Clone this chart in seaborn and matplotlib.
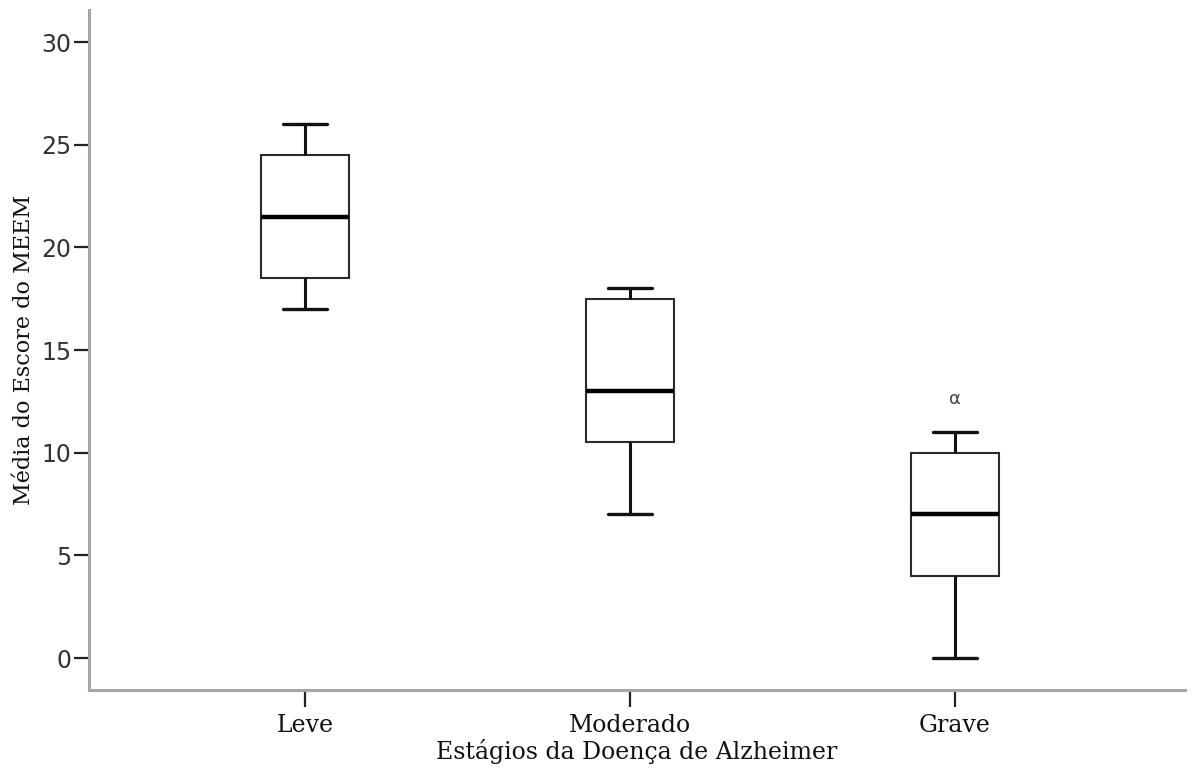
import pandas as pd
import matplotlib.pyplot as plt
import seaborn as sns

# five-number summaries (min, Q1, median, Q3, max)
stages = ['Leve', 'Moderado', 'Grave']
leve = [17, 18.5, 21.5, 24.5, 26]
moderado = [7, 10.5, 13, 17.5, 18]
grave = [0, 4, 7, 10, 11]
alpha_y = 12.6

df = pd.DataFrame({
    'stage': ['Leve'] * 5 + ['Moderado'] * 5 + ['Grave'] * 5,
    'score': leve + moderado + grave,
})

sns.set_style('white')
fig = plt.figure(figsize=(11.97, 7.71), dpi=100)
ax = fig.add_axes([0.0744, 0.105, 0.9156, 0.882])

sns.boxplot(data=df, x='stage', y='score', order=stages, ax=ax,
            color='white', linecolor='#2a2a2a', linewidth=1.5, width=0.27,
            showfliers=False,
            medianprops={'linewidth': 3.2, 'color': 'black'},
            whiskerprops={'linewidth': 2.2, 'color': '#111111'},
            capprops={'linewidth': 2.4, 'color': '#111111'})

ax.text(2, alpha_y, 'α', ha='center', va='center', fontsize=13,
        family='DejaVu Sans', color='#444444')

ax.set_xlim(-0.665, 2.708)
ax.set_ylim(-1.56, 31.56)
ax.set_yticks([0, 5, 10, 15, 20, 25, 30])

for side in ['top', 'right']:
    ax.spines[side].set_visible(False)
for side in ['left', 'bottom']:
    ax.spines[side].set_color('#a6a6a6')
    ax.spines[side].set_linewidth(2.2)

ax.tick_params(axis='y', length=11, width=1.6, color='#222222', left=True,
               labelsize=17, pad=1.5)
ax.tick_params(axis='x', length=12, width=1.6, color='#222222', bottom=True,
               labelsize=17, pad=5)
for lab in ax.get_yticklabels():
    lab.set_family('DejaVu Sans')
    lab.set_color('#333333')
for lab in ax.get_xticklabels():
    lab.set_family('DejaVu Serif')
    lab.set_color('#111111')

ax.set_xlabel('Estágios da Doença de Alzheimer', family='DejaVu Serif',
              fontsize=17, labelpad=2, color='#111111')
ax.set_ylabel('Média do Escore do MEEM', family='DejaVu Serif',
              fontsize=16, labelpad=5, color='#111111')

fig.savefig('out.png', dpi=100)
